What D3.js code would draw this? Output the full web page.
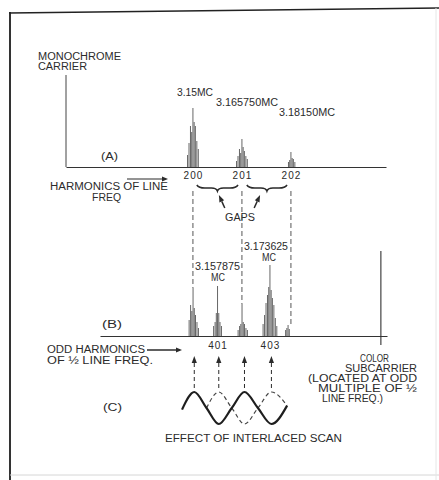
<!DOCTYPE html>
<html><head><meta charset="utf-8">
<script src="https://cdn.jsdelivr.net/npm/d3@7"></script>
<style>
html,body{margin:0;padding:0;background:#fff;}
svg{display:block;}
text{font-family:"Liberation Sans",Arial,sans-serif;fill:#2b2b2b;}
</style></head><body>
<svg id="c" width="439" height="480"></svg>
<script>
// ---------------- DATA ----------------
const harmonicsA = [200, 201, 202];                 // harmonics of line frequency (A)
const harmonicLabelsA = ["200", "201", "202"];
const lineOffsets = [-0.14, -0.11, -0.08, -0.05, -0.025, 0, 0.025, 0.05, 0.08, 0.11, 0.14]; // in line harmonics
const heightsA = [
  [0, 12, 24, 41, 35, 59, 45, 41, 26, 18, 0],
  [0, 6, 11, 18, 14, 28, 20, 16, 11, 8, 0],
  [0, 0, 0, 5, 7, 15, 9, 8, 5, 0, 0]
];
const freqLabelsA = ["3.15MC", "3.165750MC", "3.18150MC"];
const monochromeCarrier = {h: 197.41, amp: 92};
const gapsA = [[200.08, 200.92], [201.1, 201.92]];

const clustersB = [400, 401, 402, 403.14, 403.88];  // half-line-frequency harmonics (B)
const heightsB = [
  [0, 0, 16, 31, 25, 48, 28, 21, 14, 8, 0],
  [0, 0, 10, 14, 23, 50, 23, 14, 10, 0, 0],
  [0, 0, 6, 10, 12, 32, 14, 12, 8, 6, 0],
  [12, 21, 33, 41, 49, 71, 46, 38, 31, 18, 10],
  [0, 0, 0, 6, 8, 11, 7, 0, 0, 0, 0]
];
const tickValuesB = [401, 403.14];
const tickLabelsB = ["401", "403"];
const freqLabelsB = ["3.157875", "3.173625"];
const colorSubcarrier = {n: 407.67, amp: 85};
const gapLinks = [{h: 200, cluster: 0}, {h: 201, cluster: 2}, {h: 202, cluster: 4}];

// (C) interlaced scan waves: [half-line harmonic, relative amplitude]
const waveSolid = [[399.55, -0.1], [400.05, 1], [400.55, 0], [401.05, -1], [401.58, 0], [402.1, 1], [402.65, 0], [403.2, -1], [403.84, 0.15]];
const waveDashed = [[400.55, 0], [401.05, 1], [401.58, 0], [402.1, -1], [402.65, 0], [403.2, 1], [403.84, 0.15]];
const waveArrows = [400.05, 401.05, 402.1, 403.2];

// ---------------- DRAWING ----------------
const svg = d3.select("#c");
const INK = "#2b2b2b";

const xA = d3.scaleLinear().domain([197.41, 203.94]).range([66, 386]);
const yA = d3.scaleLinear().domain([0, 60]).range([167, 107]);
const xB = d3.scaleLinear().domain([396.2, 407.92]).range([100, 387]);
const yB = d3.scaleLinear().domain([0, 60]).range([336, 276]);
const yW = d3.scaleLinear().domain([-1, 1]).range([424, 392]);

// frame
svg.append("line").attr("x1", 10).attr("y1", 12).attr("x2", 10).attr("y2", 480).attr("stroke", "#333").attr("stroke-width", 2);
svg.append("line").attr("x1", 9).attr("y1", 13).attr("x2", 439).attr("y2", 8).attr("stroke", "#222").attr("stroke-width", 1.6);
svg.append("line").attr("x1", 10).attr("y1", 475).attr("x2", 439).attr("y2", 475).attr("stroke", "#d6d6d6").attr("stroke-width", 1);
svg.append("line").attr("x1", 436).attr("y1", 8).attr("x2", 436).attr("y2", 480).attr("stroke", "#e6e6e6").attr("stroke-width", 1);

function label(t, x, y, w, anchor) {
  const el = svg.append("text").attr("x", x).attr("y", y).attr("font-size", 10)
    .attr("text-anchor", anchor || "start").text(t);
  if (w) el.attr("textLength", w).attr("lengthAdjust", "spacingAndGlyphs");
  return el;
}
function arrow(x1, y1, x2, y2, opts) {
  opts = opts || {};
  const L = opts.head || 6, W = opts.half || 2.6;
  const dx = x2 - x1, dy = y2 - y1, len = Math.hypot(dx, dy);
  const ux = dx / len, uy = dy / len;
  const bx = x2 - ux * L, by = y2 - uy * L;
  const ln = svg.append("line").attr("x1", x1).attr("y1", y1).attr("x2", bx).attr("y2", by)
    .attr("stroke", INK).attr("stroke-width", opts.width || 1.2);
  if (opts.dash) ln.attr("stroke-dasharray", opts.dash);
  svg.append("path").attr("d", `M${x2},${y2}L${bx - uy * W},${by + ux * W}L${bx + uy * W},${by - ux * W}Z`).attr("fill", INK);
}

// ----- (A) spectrum -----
const gA = svg.append("g").attr("transform", `translate(0,${yA(0)})`)
  .call(d3.axisBottom(xA).tickValues(harmonicsA).tickFormat((d, i) => harmonicLabelsA[i]).tickSize(0).tickSizeOuter(0).tickPadding(5));
gA.attr("font-family", null).attr("font-size", null);
gA.select(".domain").attr("stroke", "#333").attr("stroke-width", 1.2);
gA.selectAll("text").attr("font-size", 10).attr("fill", INK).attr("letter-spacing", 1);

// monochrome carrier
svg.append("line").attr("x1", xA(monochromeCarrier.h)).attr("x2", xA(monochromeCarrier.h))
  .attr("y1", yA(0)).attr("y2", yA(monochromeCarrier.amp)).attr("stroke", "#444").attr("stroke-width", 1);

harmonicsA.forEach((h, ci) => {
  lineOffsets.forEach((o, k) => {
    const v = heightsA[ci][k];
    if (!v) return;
    svg.append("line").attr("x1", xA(h + o)).attr("x2", xA(h + o)).attr("y1", yA(0)).attr("y2", yA(v))
      .attr("stroke", "#4a4a4a").attr("stroke-width", 0.85);
  });
});

// frequency labels A
label(freqLabelsA[0], 177, 96, 36);
label(freqLabelsA[1], 216, 106, 62);
label(freqLabelsA[2], 279, 116, 56);

label("MONOCHROME", 38, 60, 83);
label("CARRIER", 38, 70, 49);
label("(A)", 101, 160, 17);
label("HARMONICS OF LINE", 50, 190, 118);
label("FREQ", 92, 201, 29).attr("fill", "#555");
arrow(127, 179, 168, 179);

// braces for gaps
gapsA.forEach(([a, b]) => {
  const x0 = xA(a), x1 = xA(b), xm = (x0 + x1) / 2, y = 185, h = 3;
  const d = `M${x0},${y}Q${x0 + 2},${y + h} ${x0 + 8},${y + h}L${xm - 6},${y + h}Q${xm - 1},${y + h} ${xm},${y + 2 * h}` +
    `Q${xm + 1},${y + h} ${xm + 6},${y + h}L${x1 - 8},${y + h}Q${x1 - 2},${y + h} ${x1},${y}`;
  svg.append("path").attr("d", d).attr("fill", "none").attr("stroke", INK).attr("stroke-width", 1.6);
});
label("GAPS", 225, 221, 30);
arrow(xA(200.65), 208, xA(200.53), 195, {width: 1.5, head: 7, half: 2.6});
arrow(xA(201.25), 208, xA(201.37), 195, {width: 1.5, head: 7, half: 2.6});

// dashed links from A to B
gapLinks.forEach(g => {
  const top = d3.max(heightsB[g.cluster]);
  svg.append("line").attr("x1", xA(g.h)).attr("x2", xA(g.h)).attr("y1", 191).attr("y2", yB(top))
    .attr("stroke", "#555").attr("stroke-width", 1).attr("stroke-dasharray", "5,3");
});

// ----- (B) spectrum -----
const gB = svg.append("g").attr("transform", `translate(0,${yB(0)})`)
  .call(d3.axisBottom(xB).tickValues(tickValuesB).tickFormat((d, i) => tickLabelsB[i]).tickSize(0).tickSizeOuter(0).tickPadding(6));
gB.attr("font-family", null).attr("font-size", null);
gB.select(".domain").attr("stroke", "#333").attr("stroke-width", 1.2);
gB.selectAll("text").attr("font-size", 10).attr("fill", INK).attr("letter-spacing", 1);

clustersB.forEach((n, ci) => {
  lineOffsets.forEach((o, k) => {
    const v = heightsB[ci][k];
    if (!v) return;
    const x = xB(n + 2 * o);
    svg.append("line").attr("x1", x).attr("x2", x).attr("y1", yB(0)).attr("y2", yB(v))
      .attr("stroke", "#4a4a4a").attr("stroke-width", 0.85);
  });
});

// colour subcarrier
svg.append("line").attr("x1", xB(colorSubcarrier.n)).attr("x2", xB(colorSubcarrier.n))
  .attr("y1", yB(0) + 9).attr("y2", yB(colorSubcarrier.amp)).attr("stroke", "#333").attr("stroke-width", 1.1);

label(freqLabelsB[1], 244, 250, 44);
label("MC", 269, 261, 14, "middle");
label(freqLabelsB[0], 195, 270, 45);
label("MC", 218, 281, 14, "middle");
label("(B)", 102, 328, 20);
label("ODD HARMONICS", 47, 353, 98);
label("OF \u00BD LINE FREQ.", 47, 364, 106);
arrow(147, 350, 182, 350, {width: 1.5});

label("COLOR", 360, 362, 29);
label("SUBCARRIER", 345, 372, 72);
label("(LOCATED AT ODD", 308, 382, 109);
label("MULTIPLE OF \u00BD", 318, 392, 99);
label("LINE FREQ.)", 322, 402, 61);

// ----- (C) interlaced scan -----
const lineGen = d3.line().x(d => xB(d[0])).y(d => yW(d[1])).curve(d3.curveMonotoneX);
svg.append("path").attr("d", lineGen(waveDashed)).attr("fill", "none").attr("stroke", "#444")
  .attr("stroke-width", 1.2).attr("stroke-dasharray", "4,3");
svg.append("path").attr("d", lineGen(waveSolid)).attr("fill", "none").attr("stroke", "#1e1e1e")
  .attr("stroke-width", 2.2);

waveArrows.forEach(n => {
  arrow(xB(n), yW(1) - 4, xB(n), 356, {dash: "4,3", width: 1, head: 7, half: 2.6});
});

label("(C)", 103, 411, 19);
label("EFFECT OF INTERLACED SCAN", 165, 442, 177);
</script>
</body></html>
